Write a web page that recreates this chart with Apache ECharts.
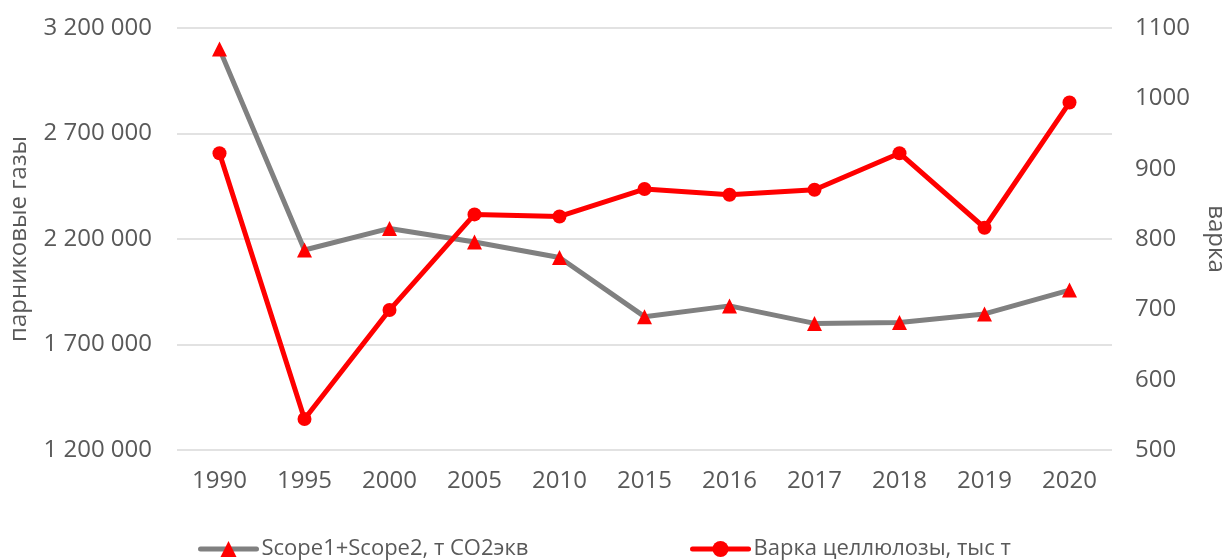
<!DOCTYPE html>
<html>
<head>
<meta charset="utf-8">
<script src="https://cdn.jsdelivr.net/npm/echarts@6/dist/echarts.min.js"></script>
<style>html,body{margin:0;padding:0;background:#fff}#c{width:1224px;height:560px}</style>
</head>
<body>
<div id="c"></div>
<script>
const categories = ['1990','1995','2000','2005','2010','2015','2016','2017','2018','2019','2020'];
const scopeValues = [3100000, 2148000, 2250000, 2186000, 2112000, 1832000, 1883000, 1800000, 1804000, 1845000, 1958000];
const pulpValues = [922, 544, 699, 835, 832, 871, 863, 870, 922, 816, 994];
const scopeName = 'Scope1+Scope2, т СО2экв';
const pulpName = 'Варка целлюлозы, тыс т';
const leftAxisName = 'парниковые газы';
const rightAxisName = 'варка';

const FONT = 'Open Sans';
const TXT = '#595959';
const FS = 24;
const chart = echarts.init(document.getElementById('c'), null, {renderer: 'canvas'});
function fmt(v){ return String(v).replace(/\B(?=(\d{3})+(?!\d))/g, ' '); }
const legendCommon = {top: 533, itemWidth: 56, itemHeight: 20, itemGap: 5,
  lineStyle: {width: 5, cap: 'round'},
  textStyle: {fontFamily: FONT, fontSize: 22, color: TXT}};
chart.setOption({
  animation: false,
  textStyle: {fontFamily: FONT},
  grid: {left: 177, right: 112, top: 28, bottom: 110, containLabel: false, outerBoundsMode: 'none'},
  legend: [
    Object.assign({data: [scopeName], left: 193}, legendCommon),
    Object.assign({data: [pulpName], left: 685}, legendCommon)
  ],
  xAxis: {
    type: 'category', data: categories, boundaryGap: true,
    axisLine: {show: false}, axisTick: {show: false},
    axisLabel: {color: TXT, fontSize: FS, fontFamily: FONT, margin: 19}
  },
  yAxis: [
    {type: 'value', min: 1200000, max: 3200000, interval: 500000, position: 'left',
     name: leftAxisName, nameLocation: 'middle', nameRotate: 90, nameGap: 146,
     nameTextStyle: {color: TXT, fontSize: FS, fontFamily: FONT},
     axisLine: {show: false}, axisTick: {show: false},
     axisLabel: {color: TXT, fontSize: FS, fontFamily: FONT, margin: 25, formatter: fmt},
     splitLine: {lineStyle: {color: '#d9d9d9', width: 1.5}}},
    {type: 'value', min: 500, max: 1100, interval: 100, position: 'right',
     name: rightAxisName, nameLocation: 'middle', nameRotate: -90, nameGap: 92,
     nameTextStyle: {color: TXT, fontSize: FS, fontFamily: FONT},
     axisLine: {show: false}, axisTick: {show: false},
     axisLabel: {color: TXT, fontSize: FS, fontFamily: FONT, margin: 23, formatter: v => String(v)},
     splitLine: {show: false}}
  ],
  series: [
    {name: scopeName, type: 'line', yAxisIndex: 0, data: scopeValues,
     symbol: 'triangle', symbolSize: 15, showAllSymbol: true,
     lineStyle: {color: '#808080', width: 5},
     itemStyle: {color: '#ff0000'}, z: 2},
    {name: pulpName, type: 'line', yAxisIndex: 1, data: pulpValues,
     symbol: 'circle', symbolSize: 14, showAllSymbol: true,
     lineStyle: {color: '#ff0000', width: 5},
     itemStyle: {color: '#ff0000'}, z: 3}
  ]
});
</script>
</body>
</html>
